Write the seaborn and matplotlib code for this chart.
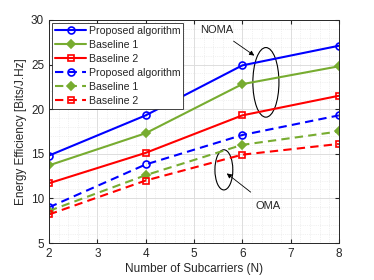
import matplotlib
matplotlib.use("Agg")
import matplotlib.pyplot as plt
import seaborn as sns
import pandas as pd
from matplotlib.patches import Ellipse
from matplotlib.ticker import MultipleLocator

sns.set_style("whitegrid")
plt.rcParams['font.family'] = ['Liberation Sans', 'DejaVu Sans']

N = [2, 4, 6, 8]
noma_proposed = [14.8, 19.3, 24.9, 27.1]
noma_base1 = [13.7, 17.3, 22.8, 24.8]
noma_base2 = [11.7, 15.1, 19.3, 21.5]
oma_proposed = [9.0, 13.8, 17.1, 19.3]
oma_base1 = [8.6, 12.6, 16.0, 17.5]
oma_base2 = [8.2, 12.0, 14.9, 16.1]
labels = ["Proposed algorithm", "Baseline 1", "Baseline 2"]

blue = "#0000FF"
green = "#77AC30"
red = "#FF0000"

fig = plt.figure(figsize=(3.74, 2.8), dpi=100)
ax = fig.add_axes([0.131, 0.132, 0.775, 0.797])

series = [
    (noma_proposed, labels[0], blue, "o", "-", "none"),
    (noma_base1, labels[1], green, "D", "-", green),
    (noma_base2, labels[2], red, "s", "-", "none"),
    (oma_proposed, labels[0], blue, "o", "--", "none"),
    (oma_base1, labels[1], green, "D", "--", green),
    (oma_base2, labels[2], red, "s", "--", "none"),
]
handles = []
for vals, lab, c, m, ls, mfc in series:
    df = pd.DataFrame({"N": N, "EE": vals})
    n0 = len(ax.lines)
    sns.lineplot(data=df, x="N", y="EE", ax=ax, color=c, marker=m,
                 linewidth=1.5, markersize=5 if m != "D" else 4,
                 markerfacecolor=mfc, markeredgecolor=c, markeredgewidth=1.2,
                 legend=False)
    for ln in ax.lines[n0:]:
        if ls == "--":
            ln.set_linestyle((0, (4, 2.5)))
        else:
            ln.set_linestyle("-")
        ln.set_label(lab)
        handles.append(ln)

ax.set_xlim(2, 8)
ax.set_ylim(5, 30)
ax.xaxis.set_major_locator(MultipleLocator(1))
ax.yaxis.set_major_locator(MultipleLocator(5))
ax.xaxis.set_minor_locator(MultipleLocator(0.2))
ax.yaxis.set_minor_locator(MultipleLocator(1))
ax.grid(which="major", color="#DDDDDD", linewidth=0.7, linestyle="-")
ax.grid(which="minor", color="#E4E4E4", linewidth=0.5, linestyle=":")
ax.tick_params(which="both", direction="in", labelsize=8.5, colors="#262626",
               length=3)
ax.tick_params(which="minor", length=0)
ax.tick_params(axis="both", which="major", top=True, right=True, bottom=True, left=True)
for s in ax.spines.values():
    s.set_color("#262626")
    s.set_linewidth(0.7)
ax.set_xlabel("Number of Subcarriers (N)", fontsize=8.5, color="#262626", labelpad=2)
ax.set_ylabel("Energy Efficiency [Bits/J.Hz]", fontsize=8.5, color="#262626", labelpad=3)

leg = ax.legend(handles=handles, loc="upper left", fontsize=7.6, frameon=True, fancybox=False,
                edgecolor="#262626", framealpha=1, borderpad=0.3,
                labelspacing=0.38, handlelength=3.0, handletextpad=0.2,
                borderaxespad=0.25)
leg.get_frame().set_linewidth(0.6)

ax.add_patch(Ellipse((6.49, 23.0), 0.54, 7.8, fill=False, edgecolor="black", linewidth=0.8))
ax.add_patch(Ellipse((5.62, 13.2), 0.37, 4.5, fill=False, edgecolor="black", linewidth=0.8))
ax.annotate("NOMA", xy=(6.25, 26.0), xytext=(5.48, 28.9), fontsize=8,
            ha="center", va="center",
            arrowprops=dict(arrowstyle="-|>", color="black", lw=0.6,
                            shrinkA=4, shrinkB=0, mutation_scale=7))
ax.annotate("OMA", xy=(5.68, 12.8), xytext=(6.53, 9.2), fontsize=8,
            ha="center", va="center",
            arrowprops=dict(arrowstyle="-|>", color="black", lw=0.6,
                            shrinkA=6, shrinkB=0, mutation_scale=7))

fig.savefig("out.png", dpi=100)
